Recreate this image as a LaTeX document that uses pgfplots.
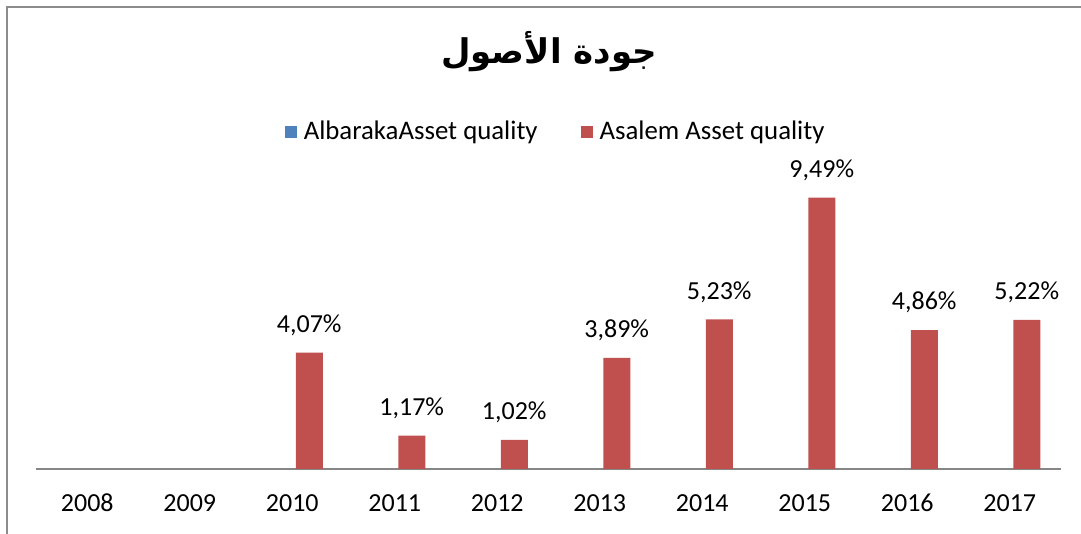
\documentclass[border=0pt]{standalone}
\usepackage{fontspec}
\setmainfont{Carlito}
\newfontfamily\arabicfont[Script=Arabic]{DejaVu Sans}
\usepackage{pgfplots}
\pgfplotsset{compat=1.18}
\TeXXeTstate=1
\definecolor{redC}{HTML}{C0504D}
\definecolor{blueC}{HTML}{4F81BD}
\definecolor{frameC}{HTML}{8C8C8C}
\definecolor{axisC}{HTML}{868686}
\begin{document}
\begin{tikzpicture}[x=0.5pt,y=0.5pt]
\useasboundingbox (0,0) rectangle (1081,534);
\draw[frameC, line width=0.85pt] (7,0) -- (7,527) -- (1081,527);
\node[font=\arabicfont\bfseries\fontsize{17}{20}\selectfont, anchor=center] at (549,482) {\beginR جودة الأصول\endR};
\begin{axis}[
  at={(18pt,32.5pt)}, anchor=south west,
  scale only axis,
  width=512.5pt, height=142.95pt,
  xmin=-0.5, xmax=9.5, ymin=0, ymax=10,
  hide y axis,
  axis x line*=bottom,
  x axis line style={axisC, line width=0.75pt, -},
  xtick={0,...,9},
  xticklabels={2008,2009,2010,2011,2012,2013,2014,2015,2016,2017},
  major tick length=0pt,
  xticklabel style={font=\fontsize{13}{15}\selectfont, anchor=north, text height=0.66em, text depth=0pt, yshift=-11pt},
  clip=false,
  legend style={at={(0.506,1.18)}, anchor=center, draw=none, fill=none,
    font=\fontsize{13.4}{15}\selectfont,
    nodes={inner sep=0pt, anchor=west},
    /tikz/every odd column/.append style={column sep=3.5pt},
    /tikz/every even column/.append style={column sep=21.5pt}},
  legend columns=2,
  legend image code/.code={\fill[#1] (0pt,-3pt) rectangle (6pt,3pt);},
]
\addlegendimage{fill=blueC, draw=none}
\addlegendentry{AlbarakaAsset quality}
\addplot[ybar, bar width=13.5pt, bar shift=8.5pt, fill=redC, draw=none,
  point meta=explicit symbolic,
  nodes near coords,
  nodes near coords style={font=\fontsize{13}{15}\selectfont, anchor=south, xshift=8.5pt, yshift=5pt, black}]
coordinates {
  (2,4.07) [4,07\%]
  (3,1.17) [1,17\%]
  (4,1.02) [1,02\%]
  (5,3.89) [3,89\%]
  (6,5.23) [5,23\%]
  (7,9.49) [9,49\%]
  (8,4.86) [4,86\%]
  (9,5.22) [5,22\%]
};
\addlegendentry{Asalem Asset quality}
\end{axis}
\end{tikzpicture}
\end{document}
